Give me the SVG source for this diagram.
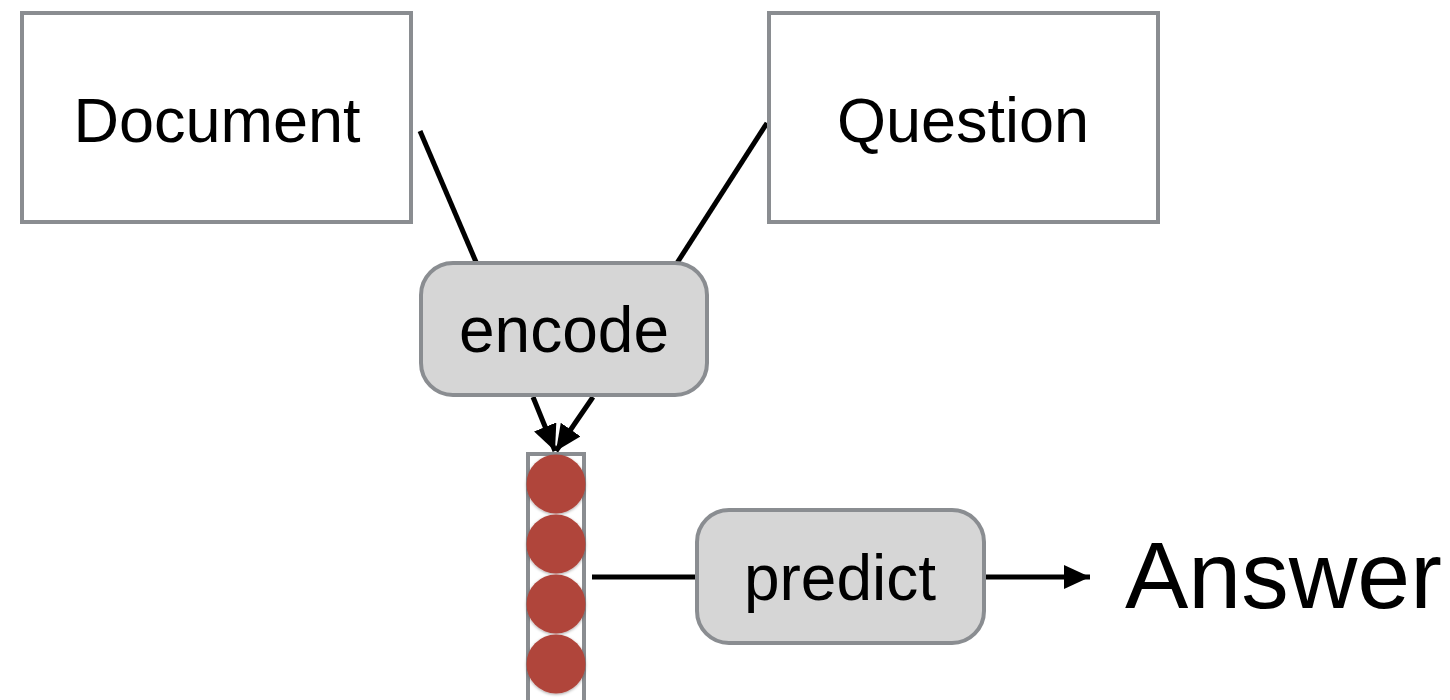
<svg xmlns="http://www.w3.org/2000/svg" width="1450" height="700" viewBox="0 0 1450 700">
  <style>
    .box { fill: #ffffff; stroke: #8a8d91; stroke-width: 4; }
    .proc { fill: #d6d6d6; stroke: #8a8d91; stroke-width: 4; }
    .lbl { font-family: "Liberation Sans", Arial, sans-serif; fill: #000000; text-anchor: middle; }
    .edge { stroke: #000000; stroke-width: 5; fill: none; }
    .cell { fill: #b0443a; }
  </style>
  <defs>
    <marker id="arrow" viewBox="0 0 26 24" refX="26" refY="12" markerWidth="26" markerHeight="24" markerUnits="userSpaceOnUse" orient="auto">
      <path d="M0,0 L26,12 L0,24 Z" fill="#000000"/>
    </marker>
    <filter id="shadow" x="-30%" y="-30%" width="160%" height="160%">
      <feDropShadow dx="0" dy="1" stdDeviation="1.5" flood-color="#000000" flood-opacity="0.35"/>
    </filter>
  </defs>

  <g id="connectors">
    <line class="edge" x1="420" y1="131" x2="476" y2="262"/>
    <line class="edge" x1="767" y1="123" x2="677" y2="263"/>
    <line class="edge" x1="533" y1="397" x2="555" y2="451" marker-end="url(#arrow)"/>
    <line class="edge" x1="593" y1="397" x2="556" y2="451" marker-end="url(#arrow)"/>
    <line class="edge" x1="592" y1="577" x2="697" y2="577"/>
    <line class="edge" x1="984" y1="577" x2="1090" y2="577" marker-end="url(#arrow)"/>
  </g>

  <g id="document">
    <rect class="box" x="22" y="13" width="389" height="209"/>
    <text class="lbl" x="217" y="142" font-size="63">Document</text>
  </g>

  <g id="question">
    <rect class="box" x="769" y="13" width="389" height="209"/>
    <text class="lbl" x="963" y="142" font-size="63">Question</text>
  </g>

  <g id="encode">
    <rect class="proc" x="421" y="263" width="286" height="132" rx="32" ry="32"/>
    <text class="lbl" x="564" y="352" font-size="64">encode</text>
  </g>

  <g id="vector">
    <rect x="528" y="454" width="56" height="260" fill="#ffffff" stroke="#8a8d91" stroke-width="4"/>
    <g filter="url(#shadow)">
      <circle class="cell" cx="556" cy="484" r="29.5"/>
      <circle class="cell" cx="556" cy="544" r="29.5"/>
      <circle class="cell" cx="556" cy="604" r="29.5"/>
      <circle class="cell" cx="556" cy="664" r="29.5"/>
    </g>
  </g>

  <g id="predict">
    <rect class="proc" x="697" y="510" width="287" height="133" rx="32" ry="32"/>
    <text class="lbl" x="840" y="600" font-size="64">predict</text>
  </g>

  <g id="answer">
    <text x="1125" y="608" font-size="95" font-family="&quot;Liberation Sans&quot;, Arial, sans-serif" fill="#000000">Answer</text>
  </g>
</svg>
